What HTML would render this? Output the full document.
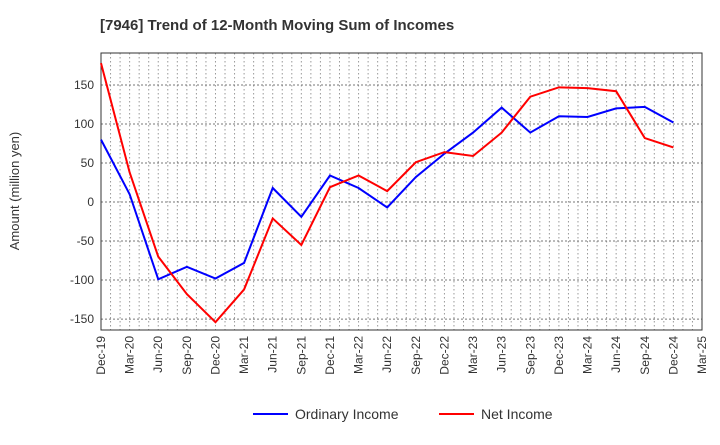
<!DOCTYPE html>
<html><head><meta charset="utf-8"><style>
body{margin:0;background:#fff;font-family:"Liberation Sans",sans-serif}
</style></head><body>
<svg id="c" width="720" height="440" xmlns="http://www.w3.org/2000/svg">
<text x="100" y="30" font-size="15" font-weight="bold" fill="#333">[7946]  Trend of 12-Month Moving Sum of Incomes</text>
<g id="grid"></g><g id="axes"></g><g id="series"></g>
<text transform="translate(19,191) rotate(-90)" text-anchor="middle" font-size="13" fill="#333">Amount (million yen)</text>
<g>
<line x1="253" y1="414" x2="288" y2="414" stroke="#0000ff" stroke-width="2"/>
<text x="295" y="419" font-size="14" fill="#333">Ordinary Income</text>
<line x1="439" y1="414" x2="474" y2="414" stroke="#ff0000" stroke-width="2"/>
<text x="481" y="419" font-size="14" fill="#333">Net Income</text>
</g>
</svg>
<script>
const categories=["Dec-19","Mar-20","Jun-20","Sep-20","Dec-20","Mar-21","Jun-21","Sep-21","Dec-21","Mar-22","Jun-22","Sep-22","Dec-22","Mar-23","Jun-23","Sep-23","Dec-23","Mar-24","Jun-24","Sep-24","Dec-24","Mar-25"];
const ordinaryIncome=[80,10,-99,-83,-98,-78,18,-19,34,18,-7,32,62,89,121,89,110,109,120,122,102];
const netIncome=[178,38,-70,-118,-154,-112,-21,-55,19,34,14,51,64,59,89,135,147,146,142,82,70];
const yTicks=[-150,-100,-50,0,50,100,150];
const L=101,R=702,T=53,B=330,yMin=-164,yMax=191;
const x=i=>L+(R-L)*i/(categories.length-1);
const y=v=>B-(v-yMin)/(yMax-yMin)*(B-T);
const NS="http://www.w3.org/2000/svg";
function mk(p,t,a){const e=document.createElementNS(NS,t);for(const k in a)e.setAttribute(k,a[k]);p.appendChild(e);return e;}
const grid=document.getElementById('grid'),axes=document.getElementById('axes'),ser=document.getElementById('series');
for(let m=1;m<(categories.length-1)*3;m++){const xx=L+(R-L)*m/((categories.length-1)*3);
const g=mk(grid,'line',{x1:xx,x2:xx,y1:T,y2:B,stroke:'#999','stroke-dasharray':'1.5,2.5','stroke-width':1});

}
yTicks.forEach(v=>{const g=mk(grid,'line',{x1:L,x2:R,y1:y(v),y2:y(v),stroke:'#777','stroke-dasharray':'2,2','stroke-width':1});


const t=mk(axes,'text',{x:L-7,y:y(v)+4,'text-anchor':'end','font-size':12,fill:'#333'});t.textContent=v;

});
const fr=mk(axes,'rect',{x:L,y:T,width:R-L,height:B-T,fill:'none',stroke:'#333','stroke-width':1});


categories.forEach((c,i)=>{const t=mk(axes,'text',{transform:`translate(${x(i)+4},${B+6}) rotate(-90)`,'text-anchor':'end','font-size':12,fill:'#333'});t.textContent=c;

});
function line(d,col,name){const p=mk(ser,'polyline',{points:d.map((v,i)=>x(i)+','+y(v)).join(' '),fill:'none',stroke:col,'stroke-width':2});

}
line(ordinaryIncome,'#0000ff','ordinary-income-line');
line(netIncome,'#ff0000','net-income-line');
</script>
</body></html>
